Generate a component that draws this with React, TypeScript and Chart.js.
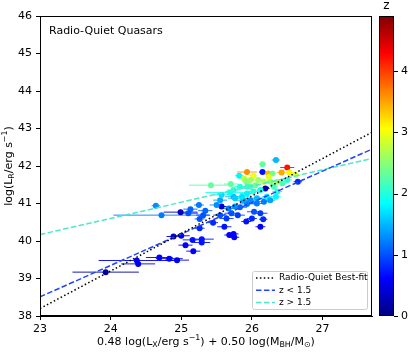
import React, { useEffect, useRef } from 'react';
import { Chart, registerables } from 'chart.js';

Chart.register(...registerables);

// ---------- data ----------
const xTicks = [23, 24, 25, 26, 27];
const yTicks = [38, 39, 40, 41, 42, 43, 44, 45, 46];
const zTicks = [0, 1, 2, 3, 4];
const X_MIN = 23;
const X_MAX = 27.7;
const Y_MIN = 38;
const Y_MAX = 46;
const Z_MAX = 4.9;

const xVals = [
  23.93, 24.37, 24.39, 24.69, 24.83, 24.94, 25.06, 25.17, 25.29, 24.89,
  25.0, 25.16, 25.29, 25.26, 25.26, 24.64, 24.72, 24.99, 25.13, 25.25,
  25.1, 25.34, 25.45, 25.31, 25.57, 25.55, 25.61, 25.64, 25.68, 25.74,
  25.75, 25.71, 25.8, 25.83, 25.93, 25.92, 26.0, 26.03, 26.12, 26.16,
  26.12, 25.5, 25.67, 25.76, 25.88, 25.98, 26.07, 26.17, 25.55, 25.74,
  26.34, 26.15, 26.5, 25.93, 26.15, 26.23, 26.42, 26.29, 26.53, 26.62,
  25.82, 26.02, 25.89, 26.09, 25.92, 26.5, 26.65, 25.42, 25.7, 26.05,
  26.19, 26.17, 26.26, 26.36, 26.43, 25.69, 25.93, 26.02, 26.12, 26.21,
  26.34, 26.36, 25.57, 25.74, 25.98, 25.76, 25.86, 26.07, 26.26, 25.93,
  26.31, 25.83, 25.98, 26.24,
];
const yVals = [
  39.17, 39.48, 39.39, 39.56, 39.53, 39.49, 39.89, 39.73, 39.96, 40.12,
  40.14, 40.03, 40.05, 40.34, 40.59, 40.94, 40.69, 40.77, 40.85, 40.96,
  40.74, 40.81, 40.49, 40.69, 40.92, 40.69, 40.38, 40.6, 40.16, 40.19,
  40.1, 40.74, 40.69, 40.9, 40.99, 40.52, 40.6, 40.78, 40.74, 40.58,
  40.38, 40.96, 40.87, 40.92, 41.09, 41.09, 41.0, 41.05, 41.09, 41.18,
  42.16, 42.05, 41.96, 41.84, 41.84, 41.8, 41.83, 41.8, 41.83, 41.76,
  41.74, 41.74, 41.67, 41.63, 41.58, 41.63, 41.58, 41.49, 41.52, 41.49,
  41.4, 41.58, 41.58, 41.58, 41.54, 41.29, 41.27, 41.32, 41.36, 41.18,
  41.18, 41.32, 41.23, 41.36, 41.45, 41.14, 41.18, 41.14, 41.09, 41.45,
  41.45, 41.45, 41.63, 41.71,
];
const xErrs = [
  0.47, 0.54, 0.24, 0.19, 0.19, 0.17, 0.1, 0.1, 0.12, 0.1,
  0.12, 0.14, 0.17, 0.07, 0.07, 0.06, 0.68, 0.24, 0.1, 0.07,
  0.14, 0.1, 0.07, 0.1, 0.07, 0.1, 0.1, 0.1, 0.07, 0.07,
  0.07, 0.1, 0.1, 0.1, 0.1, 0.07, 0.07, 0.1, 0.1, 0.06,
  0.07, 0.1, 0.12, 0.1, 0.12, 0.1, 0.1, 0.1, 0.1, 0.12,
  0.06, 0.05, 0.1, 0.14, 0.05, 0.05, 0.07, 0.05, 0.1, 0.07,
  0.06, 0.07, 0.06, 0.07, 0.06, 0.07, 0.06, 0.31, 0.1, 0.07,
  0.06, 0.07, 0.07, 0.07, 0.07, 0.35, 0.1, 0.07, 0.07, 0.07,
  0.07, 0.07, 0.1, 0.1, 0.07, 0.1, 0.1, 0.1, 0.07, 0.07,
  0.06, 0.08, 0.06, 0.05,
];
const yErrs = [
  0.06, 0.05, 0.06, 0.05, 0.05, 0.05, 0.06, 0.05, 0.06, 0.05,
  0.05, 0.06, 0.05, 0.05, 0.06, 0.06, 0.05, 0.06, 0.05, 0.05,
  0.06, 0.05, 0.05, 0.06, 0.05, 0.05, 0.06, 0.05, 0.06, 0.07,
  0.05, 0.05, 0.06, 0.05, 0.05, 0.06, 0.05, 0.05, 0.06, 0.05,
  0.06, 0.05, 0.05, 0.06, 0.05, 0.05, 0.05, 0.06, 0.05, 0.05,
  0.06, 0.06, 0.06, 0.05, 0.06, 0.05, 0.05, 0.05, 0.05, 0.06,
  0.05, 0.05, 0.05, 0.05, 0.05, 0.05, 0.06, 0.05, 0.05, 0.05,
  0.06, 0.05, 0.05, 0.05, 0.05, 0.05, 0.05, 0.05, 0.05, 0.05,
  0.05, 0.05, 0.05, 0.05, 0.05, 0.05, 0.05, 0.05, 0.05, 0.05,
  0.05, 0.05, 0.05, 0.05,
];
const zVals = [
  0.2, 0.6, 0.5, 0.6, 0.6, 0.5, 0.6, 0.6, 0.7, 0.4,
  0.6, 0.7, 0.7, 0.8, 1.0, 1.3, 1.2, 0.3, 1.1, 1.2,
  1.0, 1.1, 0.8, 1.0, 0.4, 1.0, 0.7, 0.9, 0.6, 0.6,
  0.6, 1.0, 0.9, 1.1, 1.2, 0.7, 0.8, 1.0, 0.9, 0.8,
  0.6, 1.3, 1.2, 1.3, 1.4, 1.3, 1.2, 1.2, 1.4, 1.5,
  1.5, 2.3, 4.2, 3.6, 0.7, 3.4, 3.5, 2.4, 3.1, 2.8,
  1.8, 3.0, 2.7, 2.6, 2.5, 2.0, 0.8, 2.3, 2.3, 2.4,
  0.3, 2.7, 2.5, 2.6, 2.2, 1.9, 1.8, 2.0, 1.9, 1.8,
  1.8, 2.0, 1.7, 2.0, 2.2, 1.6, 1.7, 1.5, 1.4, 2.1,
  2.2, 2.0, 2.6, 2.9,
];

// best-fit line end points
const fitX = [23, 27.7];
const fitAllY = [38.2, 42.9];
const fitLowY = [38.51, 42.45];
const fitHighY = [40.17, 42.2];

const legendLabels = ['Radio-Quiet Best-fit', 'z < 1.5', 'z > 1.5'];

// ---------- styles ----------
const FONT = '"DejaVu Sans", Verdana, sans-serif';
const BLUE_LINE = '#2244ff';
const CYAN_LINE = '#4de8c8';

function jet(t: number): [number, number, number] {
  const c = (v: number) => Math.round(255 * Math.min(1, Math.max(0, v)));
  return [c(1.5 - Math.abs(4 * t - 3)), c(1.5 - Math.abs(4 * t - 2)), c(1.5 - Math.abs(4 * t - 1))];
}
function jetColor(z: number, a = 1) {
  const [r, g, b] = jet(Math.min(1, Math.max(0, z / Z_MAX)));
  return `rgba(${r},${g},${b},${a})`;
}

type Seg = { t: string; s?: 'sub' | 'sup' };

function drawRich(ctx: CanvasRenderingContext2D, segs: Seg[], cx: number, cy: number, size: number) {
  const small = size * 0.72;
  let total = 0;
  const widths = segs.map((sg) => {
    ctx.font = `${sg.s ? small : size}px ${FONT}`;
    const w = ctx.measureText(sg.t).width;
    total += w;
    return w;
  });
  let x = cx - total / 2;
  ctx.textAlign = 'left';
  ctx.textBaseline = 'middle';
  segs.forEach((sg, i) => {
    ctx.font = `${sg.s ? small : size}px ${FONT}`;
    const dy = sg.s === 'sub' ? size * 0.28 : sg.s === 'sup' ? -size * 0.38 : 0;
    ctx.fillText(sg.t, x, cy + dy);
    x += widths[i];
  });
}

const errPlugin = {
  id: 'errbars',
  beforeDatasetsDraw(chart: any) {
    const { ctx, chartArea, scales } = chart;
    const xs = scales.x;
    const ys = scales.y;
    ctx.save();
    ctx.beginPath();
    ctx.rect(chartArea.left, chartArea.top, chartArea.right - chartArea.left, chartArea.bottom - chartArea.top);
    ctx.clip();
    ctx.lineWidth = 1;
    for (let i = 0; i < xVals.length; i++) {
      const px = xs.getPixelForValue(xVals[i]);
      const py = ys.getPixelForValue(yVals[i]);
      const x0 = xs.getPixelForValue(xVals[i] - xErrs[i]);
      const x1 = xs.getPixelForValue(xVals[i] + xErrs[i]);
      const y0 = ys.getPixelForValue(yVals[i] - yErrs[i]);
      const y1 = ys.getPixelForValue(yVals[i] + yErrs[i]);
      ctx.strokeStyle = jetColor(zVals[i], 0.9);
      ctx.beginPath();
      ctx.moveTo(x0, py);
      ctx.lineTo(x1, py);
      ctx.moveTo(px, y0);
      ctx.lineTo(px, y1);
      ctx.stroke();
    }
    ctx.restore();
  },
};

const decoPlugin = {
  id: 'deco',
  afterDraw(chart: any) {
    const { ctx, chartArea, scales } = chart;
    const zs = scales.z;
    ctx.save();
    // spines
    ctx.strokeStyle = '#000';
    ctx.lineWidth = 1;
    ctx.strokeRect(
      Math.round(chartArea.left) + 0.5,
      Math.round(chartArea.top) + 0.5,
      Math.round(chartArea.right - chartArea.left) - 1,
      Math.round(chartArea.bottom - chartArea.top) - 1
    );

    // inner title
    ctx.fillStyle = '#000';
    ctx.font = `11px ${FONT}`;
    ctx.textAlign = 'left';
    ctx.textBaseline = 'middle';
    ctx.fillText('Radio-Quiet Quasars', chartArea.left + 9, chartArea.top + 15);

    // legend
    const lx = chartArea.right - 120;
    const ly = chartArea.bottom - 45;
    const lw = 115;
    const lh = 38;
    ctx.fillStyle = 'rgba(255,255,255,0.8)';
    ctx.strokeStyle = '#cccccc';
    ctx.lineWidth = 1;
    ctx.beginPath();
    (ctx as any).roundRect(lx + 0.5, ly + 0.5, lw, lh, 2);
    ctx.fill();
    ctx.stroke();
    const styles = [
      { c: '#000', d: [1.5, 2.4] },
      { c: BLUE_LINE, d: [5.5, 2.4] },
      { c: CYAN_LINE, d: [5.5, 2.4] },
    ];
    legendLabels.forEach((lab, i) => {
      const yy = ly + 7 + i * 12.3;
      ctx.strokeStyle = styles[i].c;
      ctx.lineWidth = 1.5;
      ctx.setLineDash(styles[i].d);
      ctx.beginPath();
      ctx.moveTo(lx + 4, yy);
      ctx.lineTo(lx + 23, yy);
      ctx.stroke();
      ctx.setLineDash([]);
      ctx.fillStyle = '#000';
      ctx.font = `9px ${FONT}`;
      ctx.textAlign = 'left';
      ctx.textBaseline = 'middle';
      ctx.fillText(lab, lx + 27, yy);
    });

    // colorbar
    const cbL = chartArea.right + 7;
    const cbW = 15;
    const top = zs.getPixelForValue(Z_MAX);
    const bot = zs.getPixelForValue(0);
    const grad = ctx.createLinearGradient(0, bot, 0, top);
    for (let k = 0; k <= 64; k++) {
      const [r, g, b] = jet(k / 64);
      grad.addColorStop(k / 64, `rgb(${r},${g},${b})`);
    }
    ctx.fillStyle = grad;
    ctx.fillRect(cbL, top, cbW, bot - top);
    ctx.strokeStyle = '#000';
    ctx.lineWidth = 1;
    ctx.strokeRect(cbL + 0.5, Math.round(top) + 0.5, cbW - 1, Math.round(bot - top) - 1);
    ctx.beginPath();
    zTicks.forEach((v) => {
      const py = Math.round(zs.getPixelForValue(v)) + 0.5;
      ctx.moveTo(cbL + cbW, py);
      ctx.lineTo(cbL + cbW + 4, py);
    });
    ctx.stroke();
    ctx.fillStyle = '#000';
    ctx.font = `12px ${FONT}`;
    ctx.textAlign = 'center';
    ctx.textBaseline = 'middle';
    ctx.fillText('z', cbL + cbW / 2, 6);

    // axis titles
    drawRich(
      ctx,
      [
        { t: '0.48 log(L' },
        { t: 'X', s: 'sub' },
        { t: '/erg s' },
        { t: '\u22121', s: 'sup' },
        { t: ') + 0.50 log(M' },
        { t: 'BH', s: 'sub' },
        { t: '/M' },
        { t: '\u2299', s: 'sub' },
        { t: ')' },
      ],
      (chartArea.left + chartArea.right) / 2,
      chartArea.bottom + 26,
      11
    );
    ctx.save();
    ctx.translate(9, (chartArea.top + chartArea.bottom) / 2);
    ctx.rotate(-Math.PI / 2);
    drawRich(
      ctx,
      [
        { t: 'log(L' },
        { t: 'R', s: 'sub' },
        { t: '/erg s' },
        { t: '\u22121', s: 'sup' },
        { t: ')' },
      ],
      0,
      0,
      11
    );
    ctx.restore();
    ctx.restore();
  },
};

export default function App() {
  const ref = useRef<HTMLCanvasElement>(null);
  useEffect(() => {
    document.body.style.margin = '0';
    const pts = xVals.map((x, i) => ({ x, y: yVals[i] }));
    const colors = zVals.map((z) => jetColor(z));
    const line = (ys: number[]) => fitX.map((x, i) => ({ x, y: ys[i] }));
    const tickFont = { family: FONT, size: 11 };
    const chart = new Chart(ref.current as HTMLCanvasElement, {
      type: 'scatter',
      data: {
        datasets: [
          {
            type: 'scatter',
            data: pts,
            pointRadius: 3,
            pointBackgroundColor: colors,
            pointBorderColor: colors,
            pointBorderWidth: 0,
            order: 2,
          } as any,
          {
            type: 'line',
            data: line(fitAllY),
            borderColor: '#000',
            borderWidth: 1.5,
            borderDash: [1.5, 2.4],
            pointRadius: 0,
            fill: false,
            order: 1,
          } as any,
          {
            type: 'line',
            data: line(fitLowY),
            borderColor: BLUE_LINE,
            borderWidth: 1.5,
            borderDash: [5.5, 2.4],
            pointRadius: 0,
            fill: false,
            order: 1,
          } as any,
          {
            type: 'line',
            data: line(fitHighY),
            borderColor: CYAN_LINE,
            borderWidth: 1.5,
            borderDash: [5.5, 2.4],
            pointRadius: 0,
            fill: false,
            order: 1,
          } as any,
        ],
      },
      options: {
        responsive: false,
        animation: false,
        devicePixelRatio: 1,
        layout: { padding: { top: 16, left: 0, right: 0, bottom: 0 } },
        plugins: { legend: { display: false }, tooltip: { enabled: false } },
        scales: {
          x: {
            type: 'linear',
            position: 'bottom',
            min: X_MIN,
            max: X_MAX,
            afterBuildTicks: (s: any) => {
              s.ticks = xTicks.map((v) => ({ value: v }));
            },
            afterFit: (s: any) => {
              s.height = 36;
            },
            grid: { drawOnChartArea: false, drawTicks: true, tickLength: 4, color: '#000' },
            border: { display: true, color: '#000' },
            ticks: { font: tickFont, color: '#000', padding: 3, maxRotation: 0 },
          },
          y: {
            type: 'linear',
            position: 'left',
            min: Y_MIN,
            max: Y_MAX,
            afterBuildTicks: (s: any) => {
              s.ticks = yTicks.map((v) => ({ value: v }));
            },
            afterFit: (s: any) => {
              s.width = 40;
            },
            grid: { drawOnChartArea: false, drawTicks: true, tickLength: 4, color: '#000' },
            border: { display: true, color: '#000' },
            ticks: { font: tickFont, color: '#000', padding: 4 },
          },
          z: {
            type: 'linear',
            position: 'right',
            min: 0,
            max: Z_MAX,
            afterBuildTicks: (s: any) => {
              s.ticks = zTicks.map((v) => ({ value: v }));
            },
            afterFit: (s: any) => {
              s.width = 37;
            },
            grid: {
              display: true,
              drawOnChartArea: false,
              drawTicks: true,
              tickLength: 26,
              color: 'rgba(0,0,0,0)',
            },
            border: { display: false },
            ticks: { font: tickFont, color: '#000', padding: 3 },
          },
        },
      } as any,
      plugins: [errPlugin, decoPlugin],
    });
    return () => chart.destroy();
  }, []);
  return (
    <div style={{ width: 409, height: 352 }}>
      <canvas ref={ref} width={409} height={352} style={{ display: 'block' }} />
    </div>
  );
}
